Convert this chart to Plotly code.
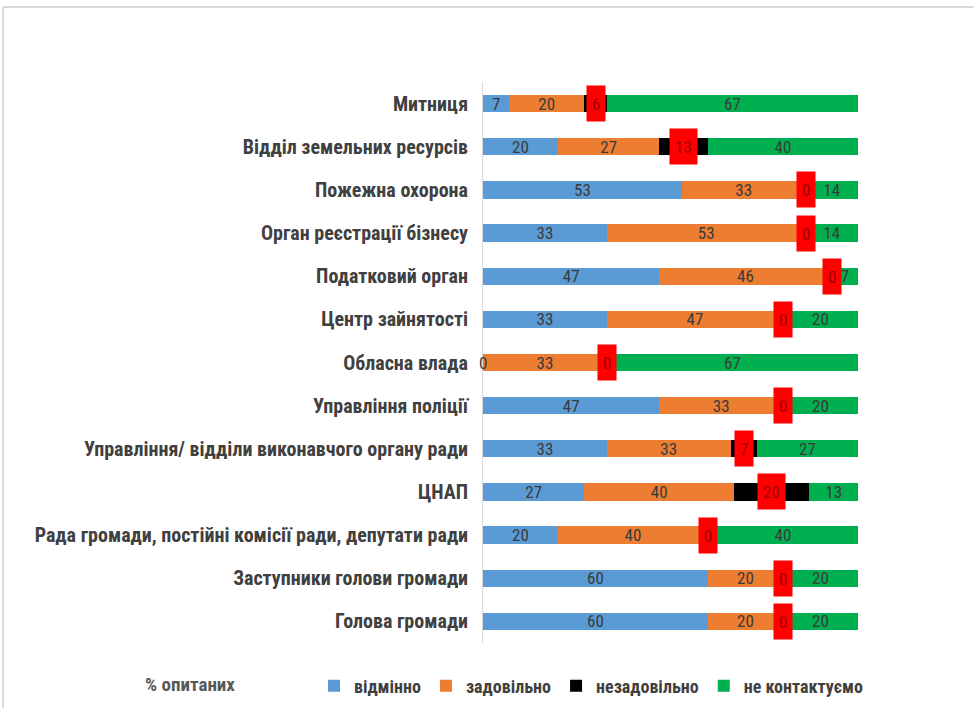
import plotly.graph_objects as go

categories = [
    "Митниця",
    "Відділ земельних ресурсів",
    "Пожежна охорона",
    "Орган реєстрації бізнесу",
    "Податковий орган",
    "Центр зайнятості",
    "Обласна влада",
    "Управління поліції",
    "Управління/ відділи виконавчого органу ради",
    "ЦНАП",
    "Рада громади, постійні комісії ради, депутати ради",
    "Заступники голови громади",
    "Голова громади",
]
excellent = [7, 20, 53, 33, 47, 33, 0, 47, 33, 27, 20, 60, 60]
satisfactory = [20, 27, 33, 53, 46, 47, 33, 33, 33, 40, 40, 20, 20]
unsatisfactory = [6, 13, 0, 0, 0, 0, 0, 0, 7, 20, 0, 0, 0]
no_contact = [67, 40, 14, 14, 7, 20, 67, 20, 27, 13, 40, 20, 20]

series = [
    ("відмінно", excellent, "#5B9BD5"),
    ("задовільно", satisfactory, "#ED7D31"),
    ("незадовільно", unsatisfactory, "#000000"),
    ("не контактуємо", no_contact, "#00B050"),
]

FONT = "Liberation Sans Narrow, Arial Narrow, Roboto Condensed, Roboto, sans-serif"
LBL = "#3A3A3A"

W, H = 974, 708
ML, MR, MT, MB = 483, 116, 82, 65

fig = go.Figure()
for name, vals, color in series:
    is_black = name == "незадовільно"
    fig.add_trace(go.Bar(
        y=categories, x=vals, name=name, orientation="h",
        marker=dict(color=color, line=dict(width=0)),
        text=None if is_black else [str(v) for v in vals],
        textposition="inside", insidetextanchor="middle", textangle=0,
        insidetextfont=dict(color=LBL, size=17, family=FONT),
        hoverinfo="skip",
    ))

pw = W - ML - MR
ph = H - MT - MB
def px(x):
    return (x - ML) / pw
def py(y):
    return (H - MB - y) / ph

annotations = []
for i, cat in enumerate(categories):
    base = 0
    for name, vals, color in series:
        v = vals[i]
        if name == "незадовільно":
            annotations.append(dict(
                x=base + v / 2, y=cat, xref="x", yref="y", text=str(v),
                showarrow=False, bgcolor="#FF0000", borderpad=5, height=25,
                font=dict(color="#9C0000", size=17, family=FONT),
                xanchor="center", yanchor="middle",
            ))
        elif v == 0:
            annotations.append(dict(
                x=base, y=cat, xref="x", yref="y", text="0", showarrow=False,
                font=dict(color=LBL, size=17, family=FONT),
                xanchor="center", yanchor="middle",
            ))
        base += v

annotations.append(dict(
    x=px(190), y=py(684),
    xref="paper", yref="paper", text="<b>% опитаних</b>", showarrow=False,
    font=dict(color="#595959", size=19, family=FONT),
    xanchor="center", yanchor="middle",
))

shapes = [
    dict(type="line", xref="paper", yref="paper", x0=px(3), x1=px(974), y0=py(7), y1=py(7),
         line=dict(color="#D9D9D9", width=2)),
    dict(type="line", xref="paper", yref="paper", x0=px(3), x1=px(3), y0=py(7), y1=py(708),
         line=dict(color="#D9D9D9", width=2)),
]

fig.update_layout(
    barmode="stack",
    bargap=0.6,
    width=W, height=H,
    margin=dict(l=ML, r=MR, t=MT, b=MB, pad=0, autoexpand=False),
    paper_bgcolor="white", plot_bgcolor="white",
    font=dict(family=FONT, color=LBL),
    uniformtext=dict(minsize=17, mode="show"),
    showlegend=True,
    legend=dict(
        orientation="h", x=px(314), y=py(686), xanchor="left", yanchor="middle",
        font=dict(size=18, color="#404040", family=FONT, weight="bold"),
        itemwidth=30, tracegroupgap=0, traceorder="normal",
    ),
    annotations=annotations,
    shapes=shapes,
)
fig.update_xaxes(range=[0, 100], visible=False, fixedrange=True)
fig.update_yaxes(
    autorange="reversed", showline=True, linecolor="#D9D9D9", linewidth=1,
    showgrid=False, ticks="", ticklabelstandoff=10, fixedrange=True,
    tickfont=dict(size=20, color="#404040", family=FONT, weight="bold"),
)

fig.write_html("out.html", config={"displayModeBar": False},
               post_script="document.body.style.margin='0';")
